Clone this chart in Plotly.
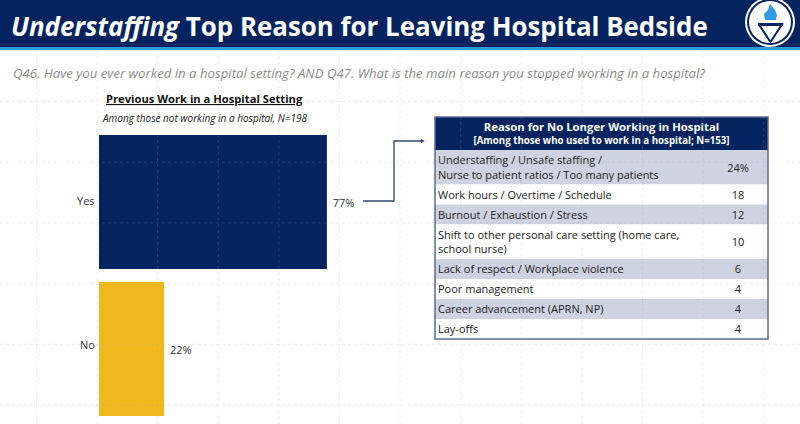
import plotly.graph_objects as go

W, H = 800, 424
NAVY = "#04235F"
GOLD = "#F0B81F"
BLUE = "#2E9BE0"
FONT = "Open Sans"

work_cats = ["Yes", "No"]
work_vals = [77, 22]
work_labels = ["77%", "22%"]

header_lines = ["<b>Reason for No Longer Working in Hospital</b>",
                "<b>[Among those who used to work in a hospital; N=153]</b>"]
reasons = [
    "Understaffing / Unsafe staffing /<br>Nurse to patient ratios / Too many patients",
    "Work hours / Overtime / Schedule",
    "Burnout / Exhaustion / Stress",
    "Shift to other personal care setting (home care,<br>school nurse)",
    "Lack of respect / Workplace violence",
    "Poor management",
    "Career advancement (APRN, NP)",
    "Lay-offs",
]
reason_vals = ["24%", "18", "12", "10", "6", "4", "4", "4"]
band_colors = ["#CDD3E0", "#FFFFFF", "#CDD3E0", "#FFFFFF", "#CDD3E0", "#FFFFFF", "#CDD3E0", "#FFFFFF"]


# helpers, everything on the slide is placed in pixels from the top left
def px(x):
    return x / W


def py(y):
    return 1 - y / H


def text(x, y, s, size, color="#222222", anchor="left"):
    return dict(xref="paper", yref="paper", x=px(x), y=py(y), text=s, showarrow=False,
                xanchor=anchor, yanchor="middle", font=dict(size=size, color=color, family=FONT))


def rect(x0, y0, x1, y1, **kw):
    return dict(type="rect", xref="paper", yref="paper", x0=px(x0), x1=px(x1), y0=py(y0), y1=py(y1), **kw)


def circle(cx, cy, r, **kw):
    return dict(type="circle", xref="paper", yref="paper", x0=px(cx - r), x1=px(cx + r),
                y0=py(cy + r), y1=py(cy - r), **kw)


def path(points, **kw):
    d = "M" + " L".join(f"{px(a):.4f},{py(b):.4f}" for a, b in points)
    return dict(type="path", xref="paper", yref="paper", path=d, **kw)


fig = go.Figure()

fig.add_trace(go.Bar(
    x=work_vals, y=work_cats, orientation="h", marker=dict(color=[NAVY, GOLD], line_width=0),
    text=work_labels, texttemplate="\u00a0%{text}", textposition="outside", cliponaxis=False,
    textfont=dict(size=11, color="#333333", family=FONT), hoverinfo="skip",
))

# the table sits on its own axes where one unit is one pixel, rows grow with their line count
HEADER_H = 33
row_h = [20 + 14.5 * r.count("<br>") for r in reasons]
row_mid = []
pos = HEADER_H
for h in row_h:
    row_mid.append(pos + h / 2)
    pos += h
text_mid = [m + 1.5 for m in row_mid]

fig.add_trace(go.Bar(
    x=[333], y=[HEADER_H / 2], width=[HEADER_H], orientation="h", xaxis="x2", yaxis="y2",
    marker=dict(color=NAVY, line_width=0), hoverinfo="skip",
))
fig.add_trace(go.Bar(
    x=[333] * len(reasons), y=row_mid, width=row_h, orientation="h", xaxis="x2", yaxis="y2",
    marker=dict(color=band_colors, line_width=0), hoverinfo="skip",
))
fig.add_trace(go.Scatter(
    x=[166.5, 166.5], y=[11.5, 25], text=header_lines, mode="text", textposition="middle center",
    xaxis="x2", yaxis="y2", textfont=dict(size=[11.3, 9.7], color="white", family=FONT), hoverinfo="skip",
))
fig.add_trace(go.Scatter(
    x=[3] * len(reasons), y=text_mid, text=reasons, mode="text", textposition="middle right",
    xaxis="x2", yaxis="y2", textfont=dict(size=11, color="#222222", family=FONT), hoverinfo="skip",
))
fig.add_trace(go.Scatter(
    x=[303] * len(reasons), y=text_mid, text=reason_vals, mode="text", textposition="middle center",
    xaxis="x2", yaxis="y2", textfont=dict(size=11, color="#222222", family=FONT), hoverinfo="skip",
))

shapes = [
    rect(0, 0, 800, 47, fillcolor=NAVY, line_width=0, layer="below"),
    rect(0, 47, 800, 50, fillcolor=BLUE, line_width=0, layer="below"),
    rect(435, 117, 768, 339, line=dict(color="#5C6A92", width=1.5)),
    # arrow from the Yes bar to the table
    path([(363, 201), (394, 201), (394, 141), (422, 141)], line=dict(color="#33446F", width=1.3)),
    path([(421, 139), (425, 141), (421, 143), (421, 139)], fillcolor="#33446F", line_width=0),
    # logo
    circle(770, 22, 25, fillcolor="white", line_width=0),
    circle(770, 22, 23, fillcolor=NAVY, line_width=0),
    circle(770, 22, 21, fillcolor="white", line_width=0),
    path([(759, 24.5), (782, 24.5), (770.5, 42), (759, 24.5)], fillcolor="white", line=dict(color=NAVY, width=2)),
    path([(758, 23), (783, 23), (783, 26), (758, 26), (758, 23)], fillcolor=NAVY, line_width=0),
    path([(765, 20), (764, 14), (768, 10), (770, 4), (775, 10), (777, 15), (776, 20), (765, 20)],
         fillcolor=BLUE, line_width=0),
]

# faint dotted guides that show through the whole slide
for i in range(13):
    gx = 36.5 + i * 60.6
    shapes.append(dict(type="line", xref="paper", yref="paper", x0=px(gx), x1=px(gx), y0=py(50), y1=0,
                       line=dict(color="rgba(170,170,170,0.22)", width=1, dash="dot"), layer="above"))
for i in range(6):
    gy = 101.5 + i * 60.7
    shapes.append(dict(type="line", xref="paper", yref="paper", x0=0, x1=1, y0=py(gy), y1=py(gy),
                       line=dict(color="rgba(170,170,170,0.22)", width=1, dash="dot"), layer="above"))

annotations = [
    text(9, 26, "<b><i>Understaffing</i> Top Reason for Leaving Hospital Bedside</b>", 25.9, "white"),
    text(11, 73, "<i>Q46. Have you ever worked in a hospital setting? AND Q47. What is the main reason you stopped working in a hospital?</i>",
         13.2, "#8C8C8C"),
    text(205, 98, "<b><u>Previous Work in a Hospital Setting</u></b>", 11.2, "#111111", "center"),
    text(205, 118, "<i>Among those not working in a hospital, N=198</i>", 10, "#222222", "center"),
]

# category names stand a little above the bar centres in the reference
for cat, lift in zip(work_cats, [2, 5]):
    annotations.append(dict(xref="x", yref="y", x=0, y=cat, text=cat, showarrow=False, xanchor="right",
                            xshift=-2, yshift=lift, font=dict(size=11, color="#333333", family=FONT)))

fig.update_layout(
    width=W, height=H, autosize=False, margin=dict(l=0, r=0, t=0, b=0),
    paper_bgcolor="white", plot_bgcolor="rgba(0,0,0,0)", showlegend=False, bargap=0.088, barmode="overlay",
    font=dict(family=FONT),
    xaxis=dict(domain=[px(99), px(421)], range=[0, 108.8], visible=False),
    yaxis=dict(domain=[py(422.5), py(128.5)], autorange="reversed", anchor="x",
               showgrid=False, showline=False, zeroline=False, ticks="", showticklabels=False),
    xaxis2=dict(domain=[px(435), px(768)], range=[0, 333], visible=False, anchor="y2"),
    yaxis2=dict(domain=[py(339), py(117)], range=[222, 0], visible=False, anchor="x2"),
    shapes=shapes, annotations=annotations,
)

# drop the page's default margin so the slide fills the window
fig.write_html("out.html", config=dict(displayModeBar=False),
               post_script="document.body.style.margin='0';document.body.style.overflow='hidden';")
